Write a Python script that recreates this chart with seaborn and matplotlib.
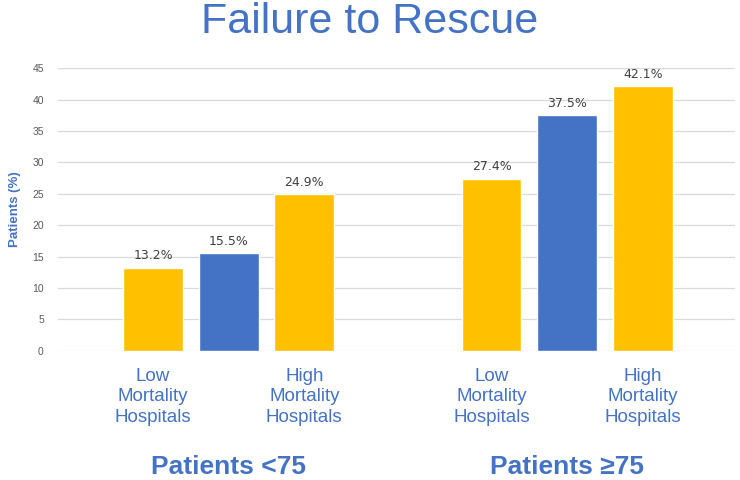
import matplotlib
matplotlib.use("Agg")
import matplotlib.pyplot as plt
import seaborn as sns
import pandas as pd

groups = ["Patients <75", "Patients ≥75"]
hospital_types = ["Low Mortality Hospitals", "Overall", "High Mortality Hospitals"]
bar_tick_labels = ["Low\nMortality\nHospitals", "", "High\nMortality\nHospitals"]
values_under75 = [13.2, 15.5, 24.9]
values_75plus = [27.4, 37.5, 42.1]
yticks = [0, 5, 10, 15, 20, 25, 30, 35, 40, 45]

YELLOW = "#FFC000"
BLUE = "#4472C4"
TXTBLUE = "#4472C4"

rows = []
for g, vals in zip(groups, [values_under75, values_75plus]):
    for h, v in zip(hospital_types, vals):
        rows.append({"group": g, "type": h, "value": v})
df = pd.DataFrame(rows)

sns.set_theme(style="white")
plt.rcParams['font.family'] = ['Liberation Sans', 'DejaVu Sans']

fig = plt.figure(figsize=(7.4, 4.8), dpi=100)
ax = fig.add_axes([0.078, 0.269, 0.915, 0.589])

sns.barplot(data=df, x="group", y="value", hue="type", order=groups,
            hue_order=hospital_types,
            palette=[YELLOW, BLUE, YELLOW], width=0.67, gap=0.21,
            legend=False, ax=ax, saturation=1, errorbar=None)

ax.set_ylim(0, 45)
ax.set_xlim(-0.505, 1.495)
ax.set_yticks(yticks)
ax.yaxis.grid(True, color="#D9D9D9", linewidth=0.9)
ax.set_axisbelow(True)
for s in ax.spines.values():
    s.set_visible(False)
ax.tick_params(axis="y", length=0, labelsize=7.5, labelcolor="#595959", pad=10)
ax.set_ylabel("Patients (%)", color=TXTBLUE, fontsize=9.5, fontweight="bold", labelpad=8)
ax.set_xlabel("")

# data labels
for c in ax.containers:
    ax.bar_label(c, labels=[f"{v:.1f}%" for v in c.datavalues], padding=4,
                 fontsize=9, color="#404040", family=["DejaVu Sans"])

# per-bar tick labels
centers = []
labels = []
patches_by_hue = [list(c.patches) for c in ax.containers]
for gi in range(len(groups)):
    for hi, lab in enumerate(bar_tick_labels):
        p = patches_by_hue[hi][gi]
        centers.append(p.get_x() + p.get_width() / 2)
        labels.append(lab)
ax.set_xticks(centers)
ax.set_xticklabels(labels, fontsize=13.5, color=TXTBLUE, linespacing=1.3)
ax.tick_params(axis="x", length=0, pad=12)

for gi, g in enumerate(groups):
    ax.text(gi, -0.41, g, transform=ax.get_xaxis_transform(), ha="center", va="center",
            fontsize=19, fontweight="bold", color=TXTBLUE, family=["Liberation Sans", "DejaVu Sans"])

fig.text(0.5, 0.955, "Failure to Rescue", ha="center", va="center", fontsize=31, color=TXTBLUE)

fig.savefig("out.png", dpi=100)
